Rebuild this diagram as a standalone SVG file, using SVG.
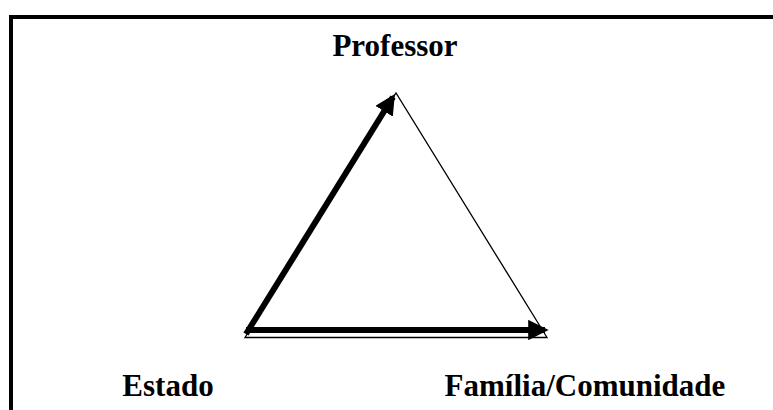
<svg xmlns="http://www.w3.org/2000/svg" width="773" height="410" viewBox="0 0 773 410">
<style>
.lbl{font-family:"Liberation Serif","Times New Roman",serif;font-weight:bold;font-size:31px;fill:#000}
.thin{stroke:#000;stroke-width:1.3;fill:none}
.thick{stroke:#000;stroke-width:6;fill:none}
</style>
<defs>
<marker id="ah" markerWidth="3.4" markerHeight="3.4" refX="2.8" refY="1.7" orient="auto" markerUnits="strokeWidth">
<path d="M0,0 L3.4,1.7 L0,3.4 z" fill="#000"/>
</marker>
</defs>
<rect width="773" height="410" fill="#fff"/>
<g id="frame">
<path d="M11,410 V17 H773" stroke="#000" stroke-width="4" fill="none"/>
</g>
<g id="connectors">
<path class="thin" d="M245,337.5 L547,337.5 L396,93 Z"/>
<path class="thick" d="M246,334 L393,97" marker-end="url(#ah)"/>
<path class="thick" d="M246,330 L545,330" marker-end="url(#ah)"/>
</g>
<g id="professor"><text class="lbl" x="395" y="56" text-anchor="middle">Professor</text></g>
<g id="estado"><text class="lbl" x="168" y="396" text-anchor="middle">Estado</text></g>
<g id="familia"><text class="lbl" x="585" y="396" text-anchor="middle">Família/Comunidade</text></g>
</svg>
